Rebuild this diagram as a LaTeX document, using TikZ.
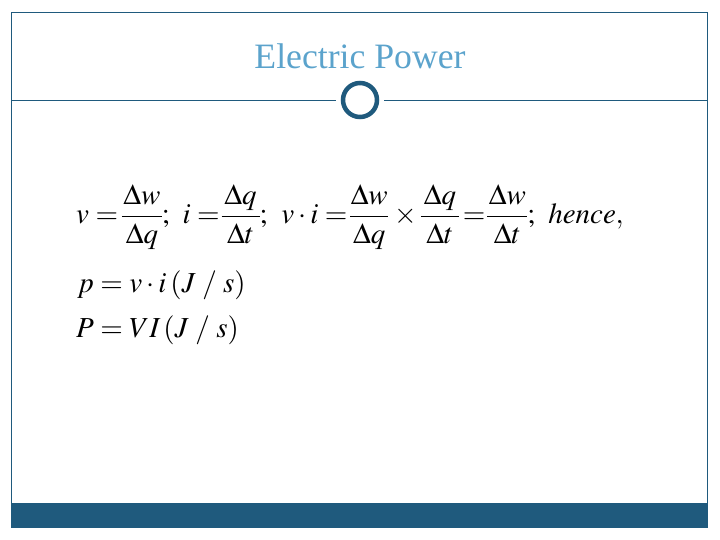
\documentclass[tikz,border=0pt]{standalone}
\usepackage{mathptmx}
\usepackage{fontspec}
\setmainfont{Liberation Serif}
\definecolor{framecol}{HTML}{1F5A7D}
\definecolor{titlecol}{HTML}{5BA3CC}
\newcommand{\bigfrac}[3][38pt]{\frac{\rule{0pt}{1.02em}\makebox[#1]{$\displaystyle #2$}}{\rule[-0.42em]{0pt}{0pt}\makebox[#1]{$\displaystyle #3$}}}
\begin{document}
\begin{tikzpicture}[x=1pt,y=-1pt]
    \useasboundingbox (0,0) rectangle (720,540);
    \tikzset{eqn/.style={anchor=base west,inner sep=0pt,font=\fontsize{29}{32}\selectfont}}
    \nulldelimiterspace=0pt
    \draw[framecol] (11.5,12.5) rectangle (707.5,527.5);
    \fill[framecol] (11.5,503) rectangle (707.5,527.5);
    \node[text=titlecol,font=\fontsize{35.7}{38}\selectfont] (title) at (360,56) {Electric Power};
    \node[circle,draw=framecol,line width=4.5pt,minimum size=34pt,inner sep=0pt] (ring) at (360,100) {};
    \coordinate (l) at (11.5,100);
    \coordinate (r) at (707.5,100);
    \coordinate (ll) at (336,100);
    \coordinate (rr) at (384,100);
    \draw[framecol] (l) -- (ll);
    \draw[framecol] (rr) -- (r);
    \node[eqn] (eqa) at (76,224) {$\displaystyle v=\hspace{-2.5pt}\bigfrac[40pt]{\Delta w}{\Delta q};\hspace{9.3pt} i=\hspace{-4.5pt}\bigfrac{\Delta q}{\Delta t};\hspace{10.5pt} v\cdot i=\hspace{-3.5pt}\bigfrac{\Delta w}{\Delta q}\hspace{2pt}\times\bigfrac{\Delta q}{\Delta t}\hspace{-2.5pt}=\hspace{-4.5pt}\bigfrac[40pt]{\Delta w}{\Delta t};\hspace{2.5pt}\ hence,$};
    \node[eqn] (eqb) at (77,292) {$p=v\cdot i\hspace{4pt}(J\,\,/\,\,s)$};
    \node[eqn] (eqc) at (76,337) {$P=VI\hspace{3pt}(J\,\,/\,\,s)$};
\end{tikzpicture}
\end{document}
